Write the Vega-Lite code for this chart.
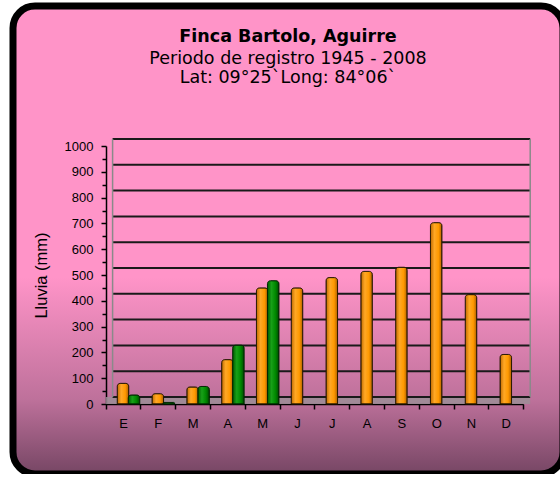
{
  "$schema": "https://vega.github.io/schema/vega-lite/v6.json",
  "width": 550,
  "height": 468,
  "autosize": {"type": "none"},
  "padding": {"left": 13, "top": 6, "right": 0, "bottom": 0},
  "background": "white",
  "config": {
    "font": "Liberation Sans",
    "view": {
      "stroke": "black",
      "strokeWidth": 7,
      "cornerRadius": 22,
      "fill": {
        "gradient": "linear", "x1": 0, "y1": 0, "x2": 0, "y2": 1,
        "stops": [
          {"offset": 0, "color": "#FF94C8"},
          {"offset": 0.58, "color": "#FF94C8"},
          {"offset": 0.84, "color": "#BE719B"},
          {"offset": 1, "color": "#764664"}
        ]
      }
    }
  },
  "title": {
    "text": "Finca Bartolo, Aguirre",
    "subtitle": ["Periodo de registro 1945 - 2008", "Lat: 09°25`Long: 84°06`"],
    "font": "DejaVu Sans",
    "fontSize": 17.5,
    "fontWeight": "bold",
    "color": "black",
    "subtitleFont": "DejaVu Sans",
    "subtitleFontSize": 17.5,
    "subtitleColor": "black",
    "subtitleLineHeight": 19,
    "subtitlePadding": 4.5,
    "anchor": "middle",
    "frame": "group",
    "offset": -80
  },
  "datasets": {
    "lluvia": [
      {"mes": "Ene", "serie": "Serie 1", "lluvia": 80},
      {"mes": "Feb", "serie": "Serie 1", "lluvia": 40},
      {"mes": "Mar", "serie": "Serie 1", "lluvia": 66},
      {"mes": "Abr", "serie": "Serie 1", "lluvia": 172},
      {"mes": "May", "serie": "Serie 1", "lluvia": 450},
      {"mes": "Jun", "serie": "Serie 1", "lluvia": 450},
      {"mes": "Jul", "serie": "Serie 1", "lluvia": 490},
      {"mes": "Ago", "serie": "Serie 1", "lluvia": 514},
      {"mes": "Set", "serie": "Serie 1", "lluvia": 530},
      {"mes": "Oct", "serie": "Serie 1", "lluvia": 703},
      {"mes": "Nov", "serie": "Serie 1", "lluvia": 424},
      {"mes": "Dic", "serie": "Serie 1", "lluvia": 192},
      {"mes": "Ene", "serie": "Serie 2", "lluvia": 35},
      {"mes": "Feb", "serie": "Serie 2", "lluvia": 6},
      {"mes": "Mar", "serie": "Serie 2", "lluvia": 68},
      {"mes": "Abr", "serie": "Serie 2", "lluvia": 228},
      {"mes": "May", "serie": "Serie 2", "lluvia": 478}
    ],
    "grid": [
      {"g": 0}, {"g": 100}, {"g": 200}, {"g": 300}, {"g": 400}, {"g": 500},
      {"g": 600}, {"g": 700}, {"g": 800}, {"g": 900}, {"g": 1000}
    ],
    "uno": [{}]
  },
  "resolve": {"axis": {"x": "independent", "y": "independent"}},
  "layer": [
    {
      "data": {"name": "uno"},
      "mark": {"type": "rect", "color": "#9C8E96", "opacity": 0.85, "y2Offset": -7, "x2Offset": 7},
      "encoding": {
        "x": {"datum": "Ene", "type": "nominal", "bandPosition": 0, "axis": null,
              "scale": {"domain": ["Ene","Feb","Mar","Abr","May","Jun","Jul","Ago","Set","Oct","Nov","Dic"], "range": [92.6, 510.2], "paddingInner": 0, "paddingOuter": 0}},
        "x2": {"datum": "Dic", "bandPosition": 1},
        "y": {"datum": 0, "type": "quantitative", "axis": null,
              "scale": {"domain": [0, 1000], "range": [398, 140], "nice": false, "zero": true}},
        "y2": {"datum": 0}
      }
    },
    {
      "data": {"name": "grid"},
      "mark": {"type": "rule", "color": "#1A1A1A", "strokeWidth": 2, "xOffset": 7, "x2Offset": 7, "yOffset": -7},
      "encoding": {
        "x": {"datum": "Ene", "type": "nominal", "bandPosition": 0, "axis": null},
        "x2": {"datum": "Dic", "bandPosition": 1},
        "y": {"field": "g", "type": "quantitative", "axis": null}
      }
    },
    {
      "data": {"name": "uno"},
      "mark": {"type": "rule", "color": "#8A8A8A", "strokeWidth": 1.5, "xOffset": 7, "yOffset": -7, "y2Offset": -7},
      "encoding": {
        "x": {"datum": "Ene", "type": "nominal", "bandPosition": 0, "axis": null},
        "y": {"datum": 0, "type": "quantitative", "axis": null},
        "y2": {"datum": 1000}
      }
    },
    {
      "data": {"name": "uno"},
      "mark": {"type": "rule", "color": "#8A8A8A", "strokeWidth": 1.5, "xOffset": 7, "yOffset": -7, "y2Offset": -7},
      "encoding": {
        "x": {"datum": "Dic", "type": "nominal", "bandPosition": 1, "axis": null},
        "y": {"datum": 0, "type": "quantitative", "axis": null},
        "y2": {"datum": 1000}
      }
    },
    {
      "data": {"name": "lluvia"},
      "transform": [{"filter": "datum.serie === 'Serie 1'"}],
      "mark": {
        "type": "bar", "width": 11.5, "stroke": "#2A1A00", "strokeWidth": 1,
        "cornerRadiusTopLeft": 3, "cornerRadiusTopRight": 3,
        "fill": {"gradient": "linear", "x1": 0, "y1": 0, "x2": 1, "y2": 0,
          "stops": [
            {"offset": 0, "color": "#C06A00"},
            {"offset": 0.35, "color": "#FFA826"},
            {"offset": 0.7, "color": "#FF9900"},
            {"offset": 1, "color": "#B05F00"}
          ]}
      },
      "encoding": {
        "x": {"field": "mes", "type": "nominal", "sort": null,
          "axis": {"title": null, "orient": "bottom", "offset": -70, "tickBand": "extent",
            "labelExpr": "substring(datum.label, 0, 1)", "labelAngle": 0,
            "labelFontSize": 13, "labelColor": "black", "labelPadding": 8,
            "tickSize": 5, "tickColor": "black", "tickWidth": 1.5,
            "domainColor": "black", "domainWidth": 1.5}},
        "y": {"field": "lluvia", "type": "quantitative",
          "axis": {"title": "Lluvia (mm)", "orient": "left", "offset": -93, "format": "d",
            "values": [0,100,200,300,400,500,600,700,800,900,1000],
            "grid": false, "labelFontSize": 13, "labelColor": "black", "labelPadding": 8,
            "tickSize": 5, "tickColor": "black", "tickWidth": 1.5,
            "domainColor": "black", "domainWidth": 1.5,
            "titleFontSize": 16.5, "titleFontWeight": "normal", "titleColor": "black", "titlePadding": 15}}
      }
    },
    {
      "data": {"name": "lluvia"},
      "transform": [{"filter": "datum.serie === 'Serie 2'"}],
      "mark": {
        "type": "bar", "width": 11.5, "xOffset": 11, "stroke": "#002A00", "strokeWidth": 1,
        "cornerRadiusTopLeft": 3, "cornerRadiusTopRight": 3,
        "fill": {"gradient": "linear", "x1": 0, "y1": 0, "x2": 1, "y2": 0,
          "stops": [
            {"offset": 0, "color": "#005A00"},
            {"offset": 0.35, "color": "#18A018"},
            {"offset": 0.7, "color": "#008800"},
            {"offset": 1, "color": "#004A00"}
          ]}
      },
      "encoding": {
        "x": {"field": "mes", "type": "nominal", "sort": null, "axis": null},
        "y": {"field": "lluvia", "type": "quantitative",
          "axis": {"title": null, "orient": "left", "offset": -93,
            "values": [50,150,250,350,450,550,650,750,850,950],
            "labels": false, "domain": false, "grid": false,
            "tickSize": 4, "tickColor": "black", "tickWidth": 1.5}}
      }
    }
  ]
}
